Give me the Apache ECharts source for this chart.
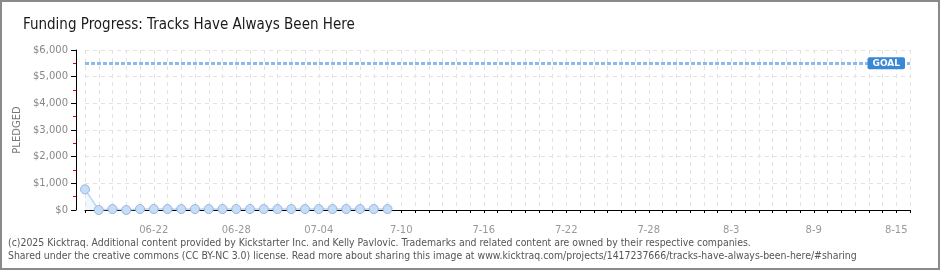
<!DOCTYPE html>
<html>
<head>
<meta charset="utf-8">
<script src="https://cdn.jsdelivr.net/npm/echarts@6/dist/echarts.min.js"></script>
<style>
  html, body { margin: 0; padding: 0; background: #fff; }
  #wrap { position: relative; width: 940px; height: 270px; }
  #chart { position: absolute; left: 0; top: 0; width: 940px; height: 270px; }
  #frame { position: absolute; left: 0; top: 0; width: 940px; height: 270px; box-sizing: border-box; border: 2px solid #8a8a8a; pointer-events: none; }
</style>
</head>
<body>
<div id="wrap"><div id="chart"></div><div id="frame"></div></div>
<script>
const titleText = 'Funding Progress: Tracks Have Always Been Here';
const footerLine1 = '(c)2025 Kicktraq. Additional content provided by Kickstarter Inc. and Kelly Pavlovic. Trademarks and related content are owned by their respective companies.';
const footerLine2 = 'Shared under the creative commons (CC BY-NC 3.0) license. Read more about sharing this image at www.kicktraq.com/projects/1417237666/tracks-have-always-been-here/#sharing';

const categories = [
  '06-17','06-18','06-19','06-20','06-21','06-22','06-23','06-24','06-25','06-26','06-27','06-28','06-29','06-30',
  '07-01','07-02','07-03','07-04','07-05','07-06','07-07','07-08','07-09','07-10','07-11','07-12','07-13','07-14',
  '07-15','07-16','07-17','07-18','07-19','07-20','07-21','07-22','07-23','07-24','07-25','07-26','07-27','07-28',
  '07-29','07-30','07-31','08-01','08-02','08-03','08-04','08-05','08-06','08-07','08-08','08-09','08-10','08-11',
  '08-12','08-13','08-14','08-15','08-16'
];
const tickDates  = ['06-22','06-28','07-04','07-10','07-16','07-22','07-28','08-03','08-09','08-15'];
const tickLabels = ['06-22','06-28','07-04','7-10','7-16','7-22','7-28','8-3','8-9','8-15'];
const pledged = [775, 0, 35, 0, 35, 35, 35, 35, 35, 35, 35, 35, 35, 35, 35, 35, 35, 35, 35, 35, 35, 35, 35];
const goal = 5500;
const yMin = 0, yMax = 6000, yStep = 1000;

const chart = echarts.init(document.getElementById('chart'), null, { renderer: 'canvas' });
const condensed = "'DejaVu Sans Condensed', 'Liberation Sans Narrow', 'DejaVu Sans', sans-serif";
chart.setOption({
  animation: false,
  backgroundColor: '#ffffff',
  title: {
    text: titleText,
    left: 18, top: 13,
    textStyle: { fontFamily: condensed, fontSize: 15, fontWeight: 'normal', color: '#1a1a1a' }
  },
  grid: { left: 85, right: 30, top: 50, bottom: 60, containLabel: false },
  xAxis: {
    type: 'category',
    data: categories,
    boundaryGap: false,
    offset: 10,
    axisLine: { show: true, lineStyle: { color: '#000', width: 1 } },
    axisTick: { show: true, interval: 0, length: 3, lineStyle: { color: '#000' } },
    axisLabel: {
      interval: function (i, v) { return tickDates.indexOf(v) >= 0; },
      formatter: function (v) { const k = tickDates.indexOf(v); return k >= 0 ? tickLabels[k] : ''; },
      color: '#999', fontSize: 10, margin: 5, fontFamily: 'DejaVu Sans, sans-serif'
    },
    splitLine: { show: true, interval: 0, lineStyle: { color: '#e2e2e2', type: [4, 4] } }
  },
  yAxis: {
    type: 'value',
    min: yMin, max: yMax, interval: yStep,
    offset: 9,
    name: 'PLEDGED',
    nameLocation: 'middle',
    nameGap: 51,
    nameTextStyle: { color: '#777', fontSize: 10, fontFamily: 'DejaVu Sans, sans-serif' },
    axisLine: { show: true, lineStyle: { color: '#000', width: 1 } },
    axisTick: { show: true, length: 5, lineStyle: { color: '#000' } },
    minorTick: { show: true, splitNumber: 2, length: 3, lineStyle: { color: '#e00000' } },
    axisLabel: {
      color: '#888', fontSize: 10, margin: 8, fontFamily: 'DejaVu Sans, sans-serif',
      formatter: function (v) { return '$' + v.toLocaleString('en-US'); }
    },
    splitLine: { show: true, lineStyle: { color: '#e2e2e2', type: [4, 4] } }
  },
  series: [{
    type: 'line',
    data: pledged,
    symbol: 'circle',
    symbolSize: 9,
    itemStyle: { color: '#c7ddf7', borderColor: '#94b7de', borderWidth: 1 },
    lineStyle: { color: '#bcd5f0', width: 1.5 },
    areaStyle: { color: 'rgba(214,230,248,0.45)' },
    markLine: {
      silent: true,
      symbol: 'none',
      lineStyle: { color: '#8cbaea', width: 3, type: [4, 2] },
      label: {
        show: true,
        position: 'insideEnd',
        distance: 5,
        formatter: 'GOAL',
        color: '#fff',
        backgroundColor: '#3a87d6',
        padding: [2, 5, 1, 5],
        borderRadius: 2,
        fontSize: 9,
        fontWeight: 'bold',
        fontFamily: 'DejaVu Sans, sans-serif'
      },
      data: [{ yAxis: goal }]
    }
  }],
  graphic: [
    { type: 'text', left: 8, top: 238, style: { text: footerLine1, fill: '#555', fontSize: 10.4, fontFamily: condensed } },
    { type: 'text', left: 8, top: 251, style: { text: footerLine2, fill: '#555', fontSize: 10.4, fontFamily: condensed } }
  ]
});
</script>
</body>
</html>
